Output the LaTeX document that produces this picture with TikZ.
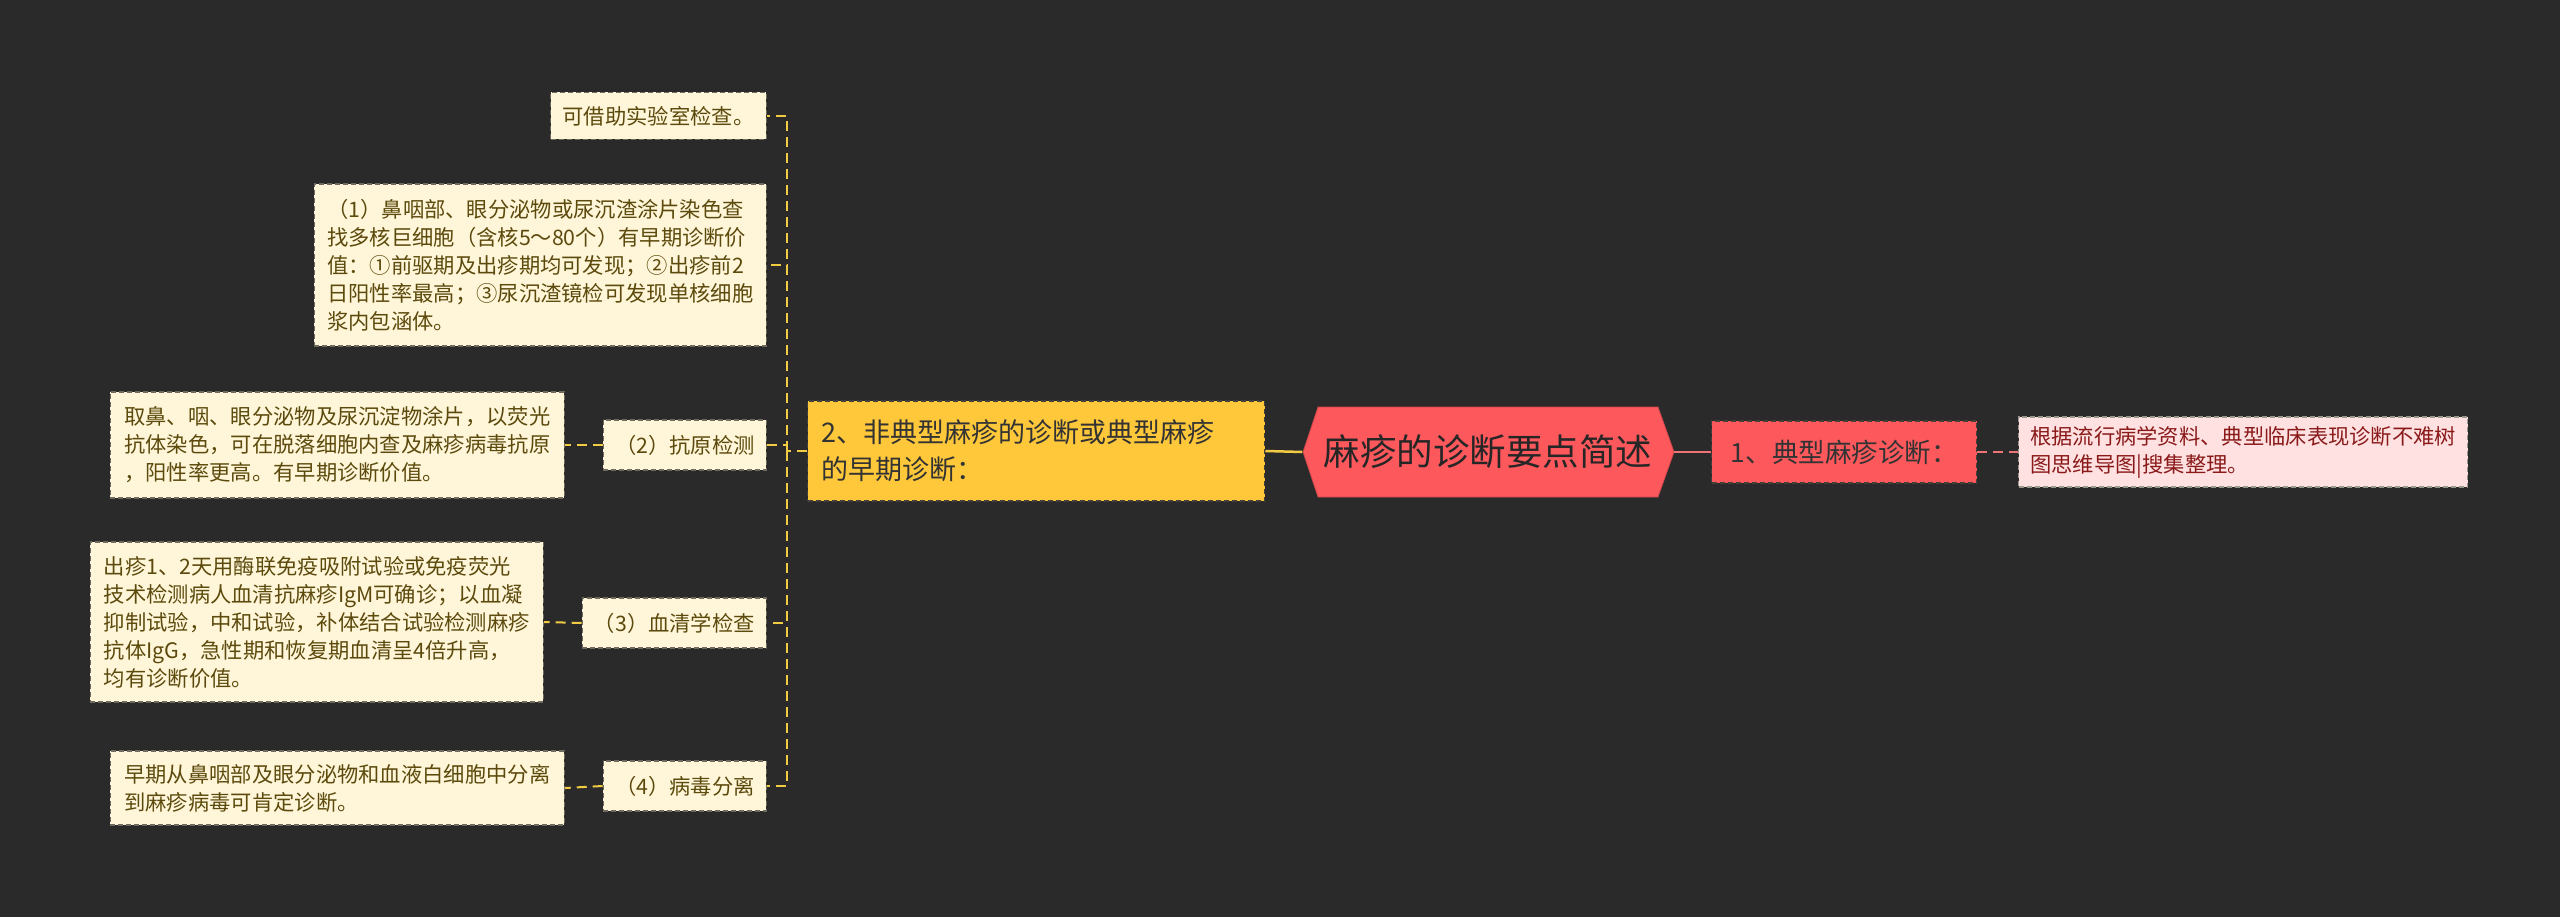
\documentclass[tikz,border=0pt]{standalone}
\usepackage{fontspec}
\setmainfont{Noto Sans CJK SC}
\usetikzlibrary{positioning}

\definecolor{bgcol}{HTML}{2A2A2A}
\definecolor{leaffill}{HTML}{FFF6DA}
\definecolor{leaftext}{HTML}{5C4A0C}
\definecolor{leafline}{HTML}{6E6A5E}
\definecolor{yelfill}{HTML}{FFC83A}
\definecolor{yelline}{HTML}{F2CB45}
\definecolor{redfill}{HTML}{FD585C}
\definecolor{redline}{HTML}{EE7478}
\definecolor{pinkfill}{HTML}{FFE1E1}
\definecolor{pinktext}{HTML}{8A1A1A}

\tikzset{
  leafbox/.style={draw=leafline, dashed, line width=1.3pt, dash pattern=on 5pt off 3pt,
    fill=leaffill, text=leaftext, align=left, inner xsep=12pt, inner ysep=9pt,
    font=\fontsize{21.3pt}{28pt}\selectfont},
  yelbox/.style={draw=leafline!60!black, dashed, line width=1.3pt, dash pattern=on 5pt off 3pt,
    fill=yelfill, text=black!80, align=left, inner xsep=14pt, inner ysep=10pt,
    font=\fontsize{27pt}{37pt}\selectfont},
  linkY/.style={draw=yelline, line width=2pt, dash pattern=on 10pt off 6pt},
  linkR/.style={draw=redline, line width=2pt, dash pattern=on 10pt off 6pt}
}

\begin{document}
\begin{tikzpicture}[x=1pt,y=-1pt]

\fill[bgcol] (0,0) rectangle (2560,917);

% root
\fill[redfill, draw=redfill!80!black, line width=0.8pt]
  (1303,452) -- (1318,407) -- (1658,407) -- (1674,452) -- (1658,497) -- (1318,497) -- cycle;
\node[minimum width=371pt, minimum height=90pt, inner sep=0pt, text=black!85,
  font=\fontsize{36.5pt}{40pt}\selectfont] (root) at (1488,452) {麻疹的诊断要点简述};

% right branch
\node[leafbox, anchor=west, fill=redfill, text=black!80, draw=leafline!60!black,
  minimum width=265pt, minimum height=62pt, inner xsep=15pt,
  font=\fontsize{26.5pt}{30pt}\selectfont] (typ) at (1711,452) {1、典型麻疹诊断：};
\node[leafbox, anchor=west, fill=pinkfill, text=pinktext, draw=leafline!70!white,
  minimum width=449pt, inner xsep=10pt] (typtext) at (2018,452)
  {根据流行病学资料、典型临床表现诊断不难树\\图思维导图|搜集整理。};

\draw[redline, line width=2.5pt] (root.east) -- (typ.west);
\draw[linkR] (typ.east) -- (typtext.west);

% left branch
\node[yelbox, anchor=west, text width=429pt, minimum height=100pt] (atyp) at (807,451)
  {2、非典型麻疹的诊断或典型麻疹\\的早期诊断：};
\draw[yelline, line width=2.5pt] (atyp.east) -- (root.west);

\node[leafbox, anchor=east, minimum width=215pt, minimum height=47pt] (lab) at (767,116)
  {可借助实验室检查。};
\node[leafbox, anchor=east, minimum width=452pt, minimum height=162pt] (smear) at (767,265)
  {（1）鼻咽部、眼分泌物或尿沉渣涂片染色查\\找多核巨细胞（含核5～80个）有早期诊断价\\值：①前驱期及出疹期均可发现；②出疹前2\\日阳性率最高；③尿沉渣镜检可发现单核细胞\\浆内包涵体。};
\node[leafbox, anchor=east, minimum width=163pt, minimum height=50pt, inner xsep=7pt] (antigen) at (767,445)
  {（2）抗原检测};
\node[leafbox, anchor=east, minimum width=184pt, minimum height=50pt, inner xsep=7pt] (serum) at (767,623)
  {（3）血清学检查};
\node[leafbox, anchor=east, minimum width=163pt, minimum height=50pt, inner xsep=7pt] (virus) at (767,786)
  {（4）病毒分离};

\node[leafbox, anchor=east, minimum width=454pt, minimum height=106pt] (antitext) at (565,445)
  {取鼻、咽、眼分泌物及尿沉淀物涂片，以荧光\\抗体染色，可在脱落细胞内查及麻疹病毒抗原\\，阳性率更高。有早期诊断价值。};
\node[leafbox, anchor=east, minimum width=453pt, minimum height=160pt] (serumtext) at (544,622)
  {出疹1、2天用酶联免疫吸附试验或免疫荧光\\技术检测病人血清抗麻疹IgM可确诊；以血凝\\抑制试验，中和试验，补体结合试验检测麻疹\\抗体IgG，急性期和恢复期血清呈4倍升高，\\均有诊断价值。};
\node[leafbox, anchor=east, minimum width=454pt, minimum height=74pt] (virustext) at (565,788)
  {早期从鼻咽部及眼分泌物和血液白细胞中分离\\到麻疹病毒可肯定诊断。};

\coordinate (fork) at (787,451);
\draw[linkY] (atyp.west) -- (fork);
\foreach \n in {lab,smear,antigen,serum,virus}
  \draw[linkY] (fork) |- (\n.east);

\draw[linkY] (antigen.west) -- (antitext.east);
\draw[linkY] (serum.west) -- (serumtext.east);
\draw[linkY] (virus.west) -- (virustext.east);

\end{tikzpicture}
\end{document}
